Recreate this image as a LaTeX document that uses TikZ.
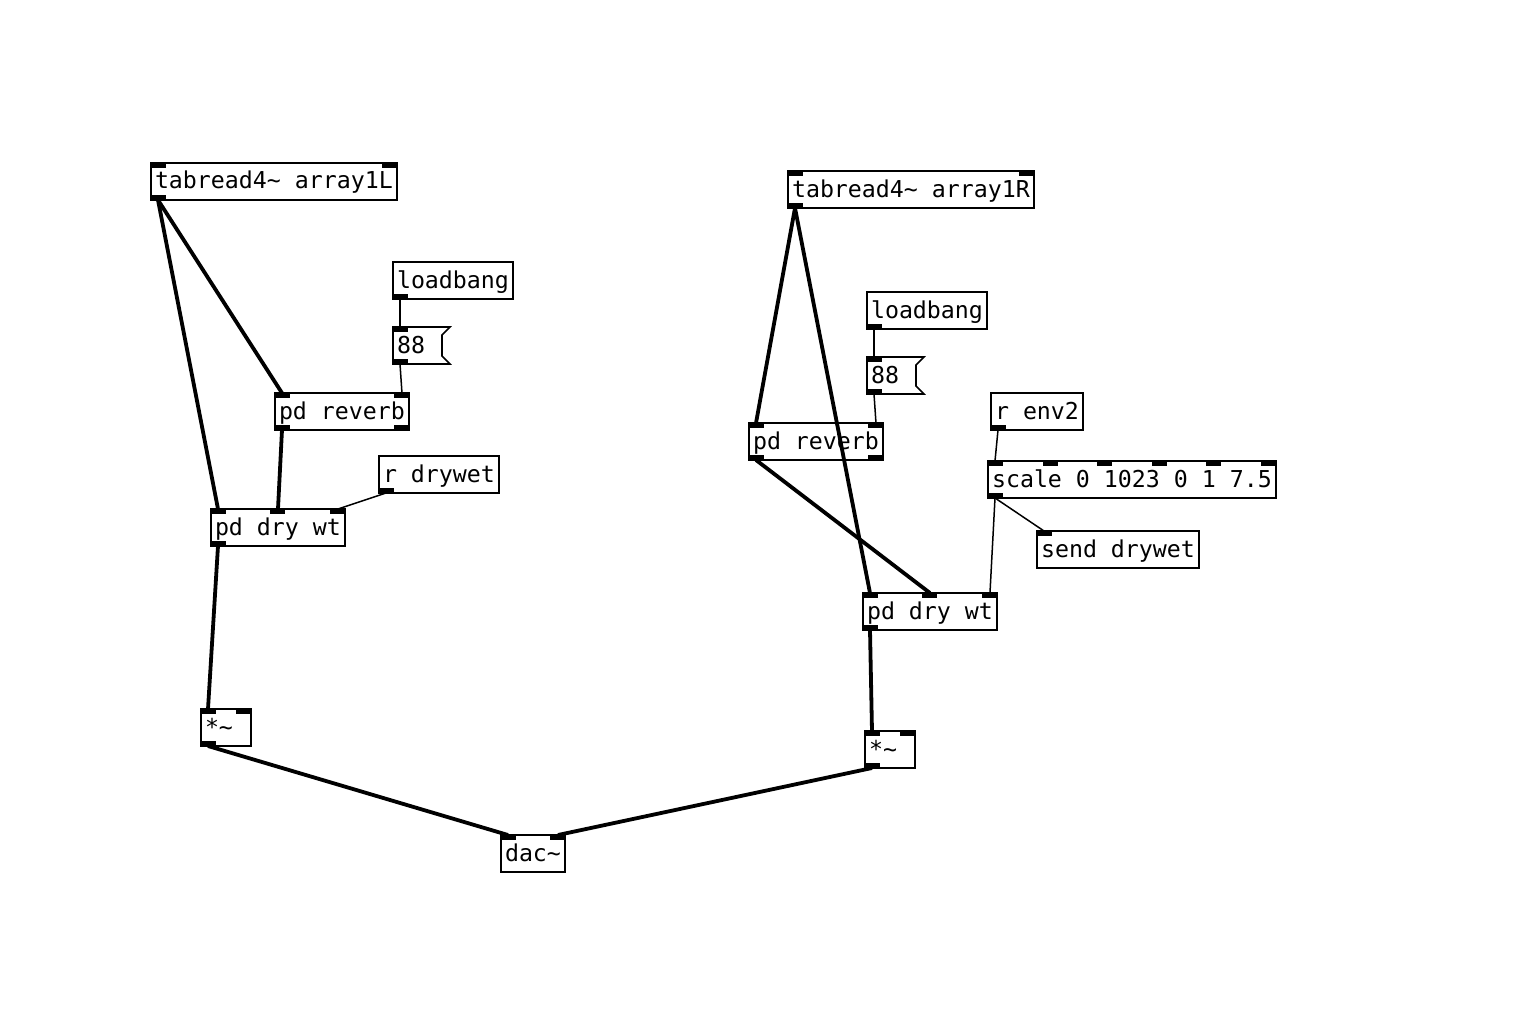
\documentclass[tikz,border=0pt]{standalone}
\usepackage{fontspec}
\setmonofont{DejaVu Sans Mono}
\usetikzlibrary{calc}

\newcommand{\pdfont}{\ttfamily\fontsize{23.25}{28}\selectfont}

% iolets: node, number of inlets, number of outlets
\newcommand{\iolets}[3]{%
  \ifnum#2>0
  \foreach \k in {1,...,#2}
    \fill let \p1=(#1.north west), \p2=(#1.north east) in
      ({\x1+(\k-1)*(\x2-\x1-15pt)/max(#2-1,1)},\y1) rectangle ++(15pt,-5pt);
  \fi
  \ifnum#3>0
  \foreach \k in {1,...,#3}
    \fill let \p1=(#1.south west), \p2=(#1.south east) in
      ({\x1+(\k-1)*(\x2-\x1-15pt)/max(#3-1,1)},\y1) rectangle ++(15pt,5pt);
  \fi
}

% flag outline of a message box
\newcommand{\msgflag}[1]{%
  \draw[line width=1.6pt] (#1.north west) -- ([xshift=8pt]#1.north east)
    -- ([yshift=-8pt]#1.north east) -- ([yshift=8pt]#1.south east)
    -- ([xshift=8pt]#1.south east) -- (#1.south west) -- cycle;
}

\tikzset{
  obj/.style={draw, line width=1.6pt, anchor=north west, inner xsep=4pt,
    inner ysep=6pt, text height=20pt, text depth=5pt, outer sep=0pt,
    font=\pdfont},
  msg/.style={obj, draw=none, text width=41pt, align=left},
  small/.style={obj, text width=42pt, align=left},
  sig/.style={line width=3.8pt},
  ctl/.style={line width=1.5pt},
}

\begin{document}
\begin{tikzpicture}[x=1pt, y=-1pt]
  \fill[white] (0,0) rectangle (1532,1014);
  \useasboundingbox (0,0) rectangle (1532,1014);

  % left channel
  \node[obj] (tabL) at (151,163) {tabread4\textasciitilde{} array1L};
  \node[obj] (lbL) at (393,262) {loadbang};
  \node[msg] (msgL) at (393,327) {88};
  \node[obj] (revL) at (275,393) {pd reverb};
  \node[obj] (rdw) at (379,456) {r drywet};
  \node[obj] (dwL) at (211,509) {pd dry wt};
  \node[small] (mulL) at (201,709) {*\textasciitilde};
  \node[obj] (dac) at (501,835) {dac\textasciitilde};

  % right channel
  \node[obj] (tabR) at (788,171) {tabread4\textasciitilde{} array1R};
  \node[obj] (lbR) at (867,292) {loadbang};
  \node[msg] (msgR) at (867,357) {88};
  \node[obj] (revR) at (749,423) {pd reverb};
  \node[obj] (renv) at (991,393) {r env2};
  \node[obj] (scale) at (988,461) {scale 0 1023 0 1 7.5};
  \node[obj] (send) at (1037,531) {send drywet};
  \node[obj] (dwR) at (863,593) {pd dry wt};
  \node[small] (mulR) at (865,731) {*\textasciitilde};

  \msgflag{msgL}
  \msgflag{msgR}

  \iolets{tabL}{2}{1}
  \iolets{lbL}{0}{1}
  \iolets{msgL}{1}{1}
  \iolets{revL}{2}{2}
  \iolets{rdw}{0}{1}
  \iolets{dwL}{3}{1}
  \iolets{mulL}{2}{1}
  \iolets{dac}{2}{0}
  \iolets{tabR}{2}{1}
  \iolets{lbR}{0}{1}
  \iolets{msgR}{1}{1}
  \iolets{revR}{2}{2}
  \iolets{renv}{0}{1}
  \iolets{scale}{6}{1}
  \iolets{send}{1}{0}
  \iolets{dwR}{3}{1}
  \iolets{mulR}{2}{1}

  % cords, left
  \draw[sig] ([xshift=7pt]tabL.south west) -- ([xshift=7pt]dwL.north west);
  \draw[sig] ([xshift=7pt]tabL.south west) -- ([xshift=7pt]revL.north west);
  \draw[ctl] ([xshift=7pt]lbL.south west) -- ([xshift=7pt]msgL.north west);
  \draw[ctl] ([xshift=7pt]msgL.south west) -- ([xshift=-7pt]revL.north east);
  \draw[sig] ([xshift=7pt]revL.south west) -- (dwL.north);
  \draw[ctl] ([xshift=7pt]rdw.south west) -- ([xshift=-7pt]dwL.north east);
  \draw[sig] ([xshift=7pt]dwL.south west) -- ([xshift=7pt]mulL.north west);
  \draw[sig] ([xshift=7pt]mulL.south west) -- ([xshift=7pt]dac.north west);

  % cords, right
  \draw[sig] ([xshift=7pt]tabR.south west) -- ([xshift=7pt]revR.north west);
  \draw[sig] ([xshift=7pt]tabR.south west) -- ([xshift=7pt]dwR.north west);
  \draw[ctl] ([xshift=7pt]lbR.south west) -- ([xshift=7pt]msgR.north west);
  \draw[ctl] ([xshift=7pt]msgR.south west) -- ([xshift=-7pt]revR.north east);
  \draw[sig] ([xshift=7pt]revR.south west) -- (dwR.north);
  \draw[ctl] ([xshift=7pt]renv.south west) -- ([xshift=7pt]scale.north west);
  \draw[ctl] ([xshift=7pt]scale.south west) -- ([xshift=7pt]send.north west);
  \draw[ctl] ([xshift=7pt]scale.south west) -- ([xshift=-7pt]dwR.north east);
  \draw[sig] ([xshift=7pt]dwR.south west) -- ([xshift=7pt]mulR.north west);
  \draw[sig] ([xshift=7pt]mulR.south west) -- ([xshift=-7pt]dac.north east);
\end{tikzpicture}
\end{document}
